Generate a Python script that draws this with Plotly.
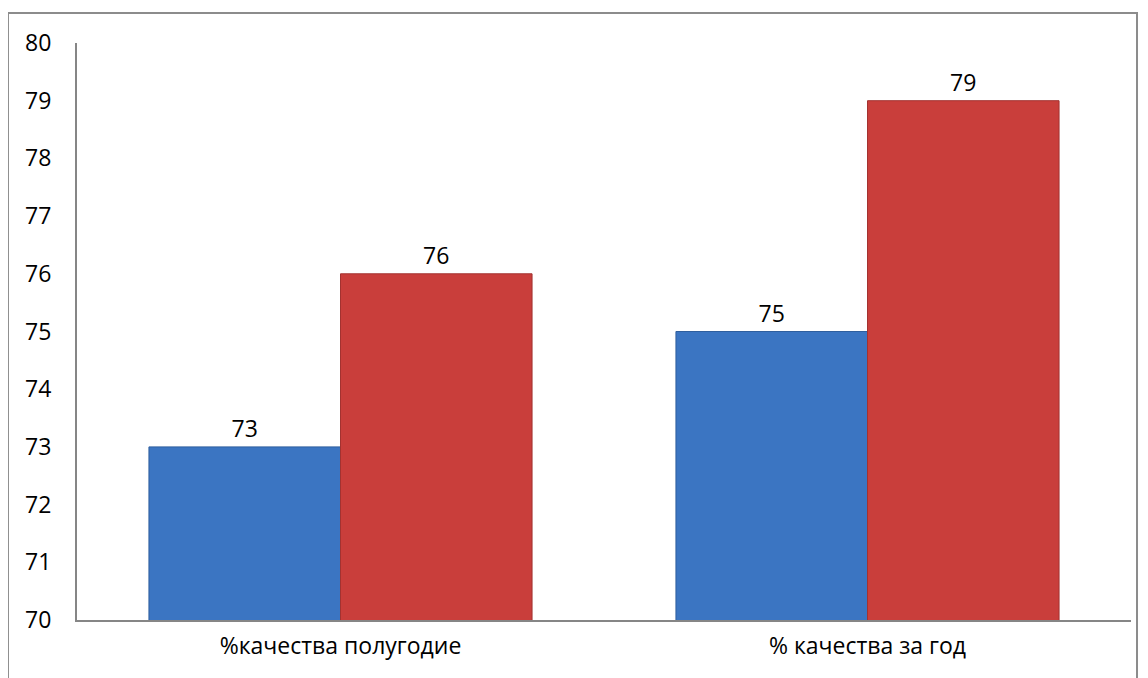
import plotly.graph_objects as go

categories = ["%качества полугодие", "% качества за год"]
series_a = [73, 75]
series_b = [76, 79]
y_ticks = [70, 71, 72, 73, 74, 75, 76, 77, 78, 79, 80]

FONT = "Open Sans"
FS = 23

fig = go.Figure()
fig.add_trace(go.Bar(
    x=categories, y=series_a, name="Ряд 1",
    marker=dict(color="#3B75C2", line=dict(color="#2F5F9E", width=1)),
    text=[str(v) for v in series_a], textposition="outside",
    textfont=dict(family=FONT, size=FS, color="#000000"),
    cliponaxis=False,
))
fig.add_trace(go.Bar(
    x=categories, y=series_b, name="Ряд 2",
    marker=dict(color="#C93E3B", line=dict(color="#A33230", width=1)),
    text=[str(v) for v in series_b], textposition="outside",
    textfont=dict(family=FONT, size=FS, color="#000000"),
    cliponaxis=False,
))

fig.update_layout(
    width=1140, height=670,
    margin=dict(l=69, r=17, t=35, b=58),
    paper_bgcolor="white", plot_bgcolor="white",
    barmode="group", bargap=0.273, bargroupgap=0,
    showlegend=False,
    font=dict(family=FONT, size=FS, color="#000000"),
    shapes=[dict(type="rect", xref="paper", yref="paper",
                 x0=-0.0655, x1=1.0057, y0=-0.3, y1=1.052,
                 line=dict(color="#8C8C8C", width=2), fillcolor="rgba(0,0,0,0)",
                 layer="below")],
)
fig.update_yaxes(range=[70, 80], tickvals=y_ticks, showgrid=False,
                 showline=True, linecolor="#868686", linewidth=2,
                 ticks="", ticklabelstandoff=19, zeroline=False,
                 tickfont=dict(family=FONT, size=FS))
fig.update_xaxes(showgrid=False, showline=True, linecolor="#868686", linewidth=2,
                 ticks="", tickfont=dict(family=FONT, size=FS), ticklabelstandoff=4)

fig.write_html("out.html")
